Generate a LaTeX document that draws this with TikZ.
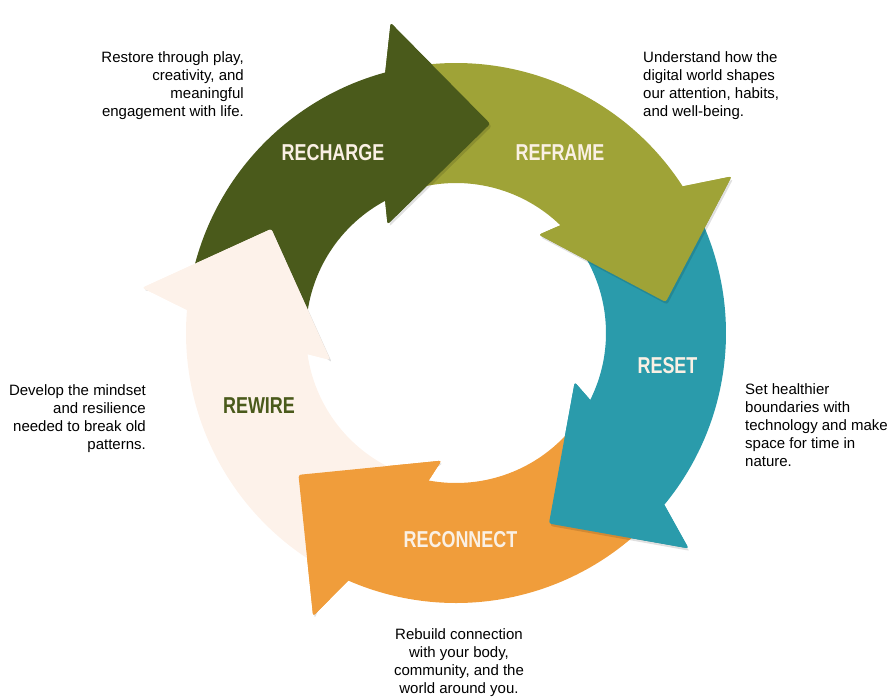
\documentclass[tikz,border=0pt]{standalone}
\usepackage{fontspec}
\setmainfont{Liberation Sans}
\usepackage{graphicx}
\usepackage{xcolor}
\usepackage{tikz}

\definecolor{rechargegreen}{HTML}{4A5A1B}
\definecolor{reframeolive}{HTML}{9FA337}
\definecolor{resetteal}{HTML}{2A9BAB}
\definecolor{reconnectorange}{HTML}{F09D3B}
\definecolor{rewirecream}{HTML}{FDF2EA}
\definecolor{labelcream}{HTML}{FAF0E4}

\newcommand{\stagename}[1]{\scalebox{0.78}[1]{#1}}

\tikzset{
  stage/.style={font=\fontsize{23}{23}\selectfont\bfseries, text=labelcream, inner sep=0pt},
  blurb/.style={font=\fontsize{15}{18}\selectfont, text=black, inner sep=0pt},
}

\begin{document}
\begin{tikzpicture}[x=1pt, y=-1pt]
  \useasboundingbox (0,0) rectangle (893,697);

  \begin{scope}[shift={(456,333)}]
    % tail / tip angles, clockwise from east
    \foreach \tail/\tip/\col in {-172.6/-80.7/rechargegreen, -102.7/-8.4/reframeolive,
        -30.4/64/resetteal, 42/138/reconnectorange, 116/209.4/rewirecream} {
      \pgfmathsetmacro{\oj}{\tip-24.5}
      \pgfmathsetmacro{\ob}{\tip-21.2}
      \pgfmathsetmacro{\ib}{\tip-41.5}
      \pgfmathsetmacro{\ij}{\tip-37.5}
      \fill[\col] (\tail:270) arc[start angle=\tail, end angle=\oj, radius=270]
        [rounded corners=2.5pt] -- (\ob:317) -- (\tip:212) -- (\ib:128.5)
        [sharp corners] -- (\ij:150)
        arc[start angle=\ij, end angle=\tail, radius=150] -- cycle;
    }
    % heads again, with a soft shadow, so each lies over the next tail
    \foreach \tip/\col in {-80.7/rechargegreen, -8.4/reframeolive,
        64/resetteal, 138/reconnectorange, 209.4/rewirecream} {
      \pgfmathsetmacro{\oj}{\tip-24.5}
      \pgfmathsetmacro{\ob}{\tip-21.2}
      \pgfmathsetmacro{\ib}{\tip-41.5}
      \pgfmathsetmacro{\ij}{\tip-37.5}
      \pgfmathsetmacro{\midang}{\tip-20}
      \begin{scope}[shift={(1.5,2.5)}]
        \fill[black, opacity=0.12, rounded corners=2.5pt]
          (\ob:317) -- (\tip:212) -- (\ib:128.5) -- (\midang:210) -- cycle;
      \end{scope}
      \fill[\col, rounded corners=2.5pt]
        (\oj:270) -- (\ob:317) -- (\tip:212) -- (\ib:128.5) -- (\ij:150) -- cycle;
    }
  \end{scope}

  \node[stage] (recharge) at (333,153) {\stagename{RECHARGE}};
  \node[stage] (reframe) at (560,152.5) {\stagename{REFRAME}};
  \node[stage] (reset) at (667.5,365.5) {\stagename{RESET}};
  \node[stage] (reconnect) at (460.5,539.5) {\stagename{RECONNECT}};
  \node[stage, text=rechargegreen] (rewire) at (259,406) {\stagename{REWIRE}};

  \node[blurb, align=right, anchor=north east] (rechargetext) at (244,51.4)
    {Restore through play,\\creativity, and\\meaningful\\engagement with life.};
  \node[blurb, align=left, anchor=north west] (reframetext) at (643,51.4)
    {Understand how the\\digital world shapes\\our attention, habits,\\and well-being.};
  \node[blurb, align=left, anchor=north west] (resettext) at (745,383.4)
    {Set healthier\\boundaries with\\technology and make\\space for time in\\nature.};
  \node[blurb, align=center, anchor=north] (reconnecttext) at (459,628)
    {Rebuild connection\\with your body,\\community, and the\\world around you.};
  \node[blurb, align=right, anchor=north east] (rewiretext) at (146,384)
    {Develop the mindset\\and resilience\\needed to break old\\patterns.};
\end{tikzpicture}
\end{document}
